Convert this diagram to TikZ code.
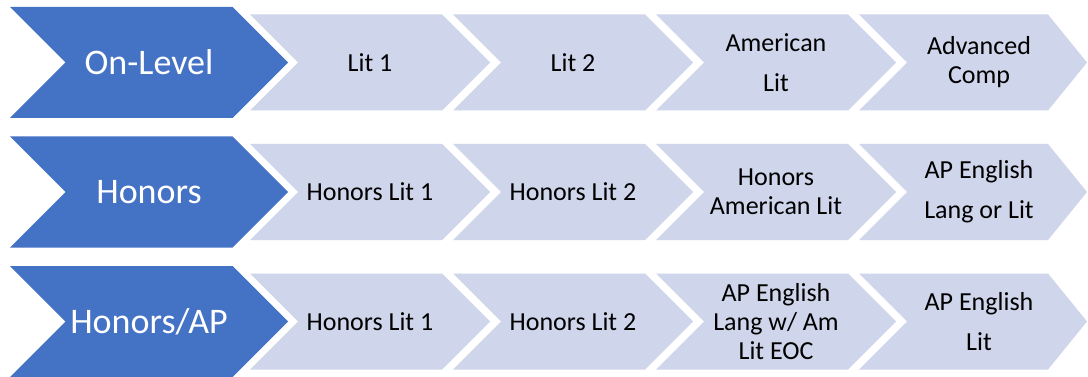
\documentclass[tikz,border=0pt]{standalone}
\usepackage{fontspec}
\setmainfont{Carlito}
\definecolor{dblue}{HTML}{4472C4}
\definecolor{lblue}{HTML}{CFD5EA}
\newcommand\mychev[7]{% x0, yc, w, h, dnotch, dtip, colour
  \fill[#7] (#1,#2-#4/2) -- (#1+#3-#6,#2-#4/2) -- (#1+#3,#2) -- (#1+#3-#6,#2+#4/2)
    -- (#1,#2+#4/2) -- (#1+#5,#2) -- cycle;}
\begin{document}
\begin{tikzpicture}[x=1pt,y=-1pt,
  lab/.style={font=\fontsize{26}{29}\selectfont, align=center, text=black, inner sep=0pt},
  head/.style={font=\fontsize{36}{40}\selectfont, text=white, inner sep=0pt}]
\useasboundingbox[fill=white] (0,0) rectangle (1088,377);
% rows
\foreach \yc in {62.5,192,321.5}{
  \mychev{10}{\yc}{278}{111}{55.5}{55.5}{dblue}
  \mychev{250}{\yc}{240}{96}{48}{48}{lblue}
  \mychev{453}{\yc}{240}{96}{48}{48}{lblue}
  \mychev{656}{\yc}{240}{96}{48}{48}{lblue}
  \mychev{859}{\yc}{228}{96}{48}{39}{lblue}
}
% row 1
\node[head] (h1) at (149,62.5) {On-Level};
\node[lab] (r1c1) at (370,62.5) {Lit 1};
\node[lab] (r1c2) at (573,62.5) {Lit 2};
\node[lab] (r1c3) at (776,62.5) {American\\[11pt]Lit};
\node[lab] (r1c4) at (979,62.5) {Advanced\\Comp};
% row 2
\node[head] (h2) at (149,192) {Honors};
\node[lab] (r2c1) at (370,192) {Honors Lit 1};
\node[lab] (r2c2) at (573,192) {Honors Lit 2};
\node[lab] (r2c3) at (776,192) {Honors\\American Lit};
\node[lab] (r2c4) at (979,192) {AP English\\[11pt]Lang or Lit};
% row 3
\node[head] (h3) at (149,321.5) {Honors/AP};
\node[lab] (r3c1) at (370,321.5) {Honors Lit 1};
\node[lab] (r3c2) at (573,321.5) {Honors Lit 2};
\node[lab] (r3c3) at (776,321.5) {AP English\\Lang w/ Am\\Lit EOC};
\node[lab] (r3c4) at (979,321.5) {AP English\\[11pt]Lit};
\end{tikzpicture}
\end{document}
